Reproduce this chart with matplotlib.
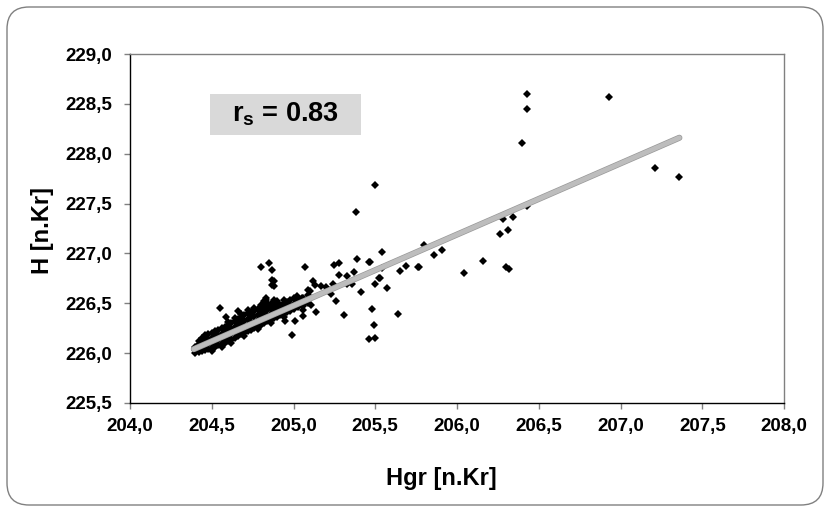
import numpy as np
import matplotlib
matplotlib.use('Agg')
import matplotlib.pyplot as plt
import matplotlib.patheffects as pe
from matplotlib.patches import FancyBboxPatch, Rectangle
from matplotlib.ticker import FuncFormatter

plt.rcParams['font.family'] = ['Liberation Sans', 'DejaVu Sans']
plt.rcParams['mathtext.fontset'] = 'custom'
plt.rcParams['mathtext.rm'] = 'Liberation Sans'
plt.rcParams['mathtext.bf'] = 'Liberation Sans:bold'

# dense band of points (Hgr, H)
band_x = [204.40, 204.40, 204.40,
          204.42, 204.42, 204.42, 204.42,
          204.44, 204.44, 204.44, 204.44,
          204.46, 204.46, 204.46, 204.46,
          204.48, 204.48, 204.48, 204.48,
          204.50, 204.50, 204.50, 204.50,
          204.52, 204.52, 204.52, 204.52,
          204.54, 204.54, 204.54, 204.54,
          204.56, 204.56, 204.56, 204.56,
          204.58, 204.58, 204.58, 204.58,
          204.60, 204.60, 204.60, 204.60,
          204.62, 204.62, 204.62, 204.62,
          204.64, 204.64, 204.64, 204.64,
          204.66, 204.66, 204.66, 204.66,
          204.68, 204.68, 204.68, 204.68,
          204.70, 204.70, 204.70, 204.70,
          204.72, 204.72, 204.72, 204.72,
          204.74, 204.74, 204.74, 204.74,
          204.76, 204.76, 204.76, 204.76,
          204.78, 204.78, 204.78, 204.78,
          204.80, 204.80, 204.80, 204.80,
          204.82, 204.82, 204.82, 204.82,
          204.84, 204.84, 204.84, 204.84,
          204.86, 204.86, 204.86, 204.86,
          204.88, 204.88, 204.88, 204.88,
          204.90, 204.90, 204.90, 204.90,
          204.92, 204.92, 204.92,
          204.94, 204.94, 204.94, 204.94,
          204.96, 204.96, 204.96,
          204.98, 204.98, 204.98,
          205.00, 205.00, 205.00,
          205.03, 205.03,
          205.06, 205.06,
          205.09, 205.09,
          204.60, 204.64, 204.68, 204.72, 204.76, 204.80, 204.84, 204.88,
          204.50, 204.56, 204.62, 204.70, 204.78, 204.86, 204.94]
band_y = [226.00, 226.03, 226.06,
          226.01, 226.05, 226.09, 226.12,
          226.02, 226.06, 226.10, 226.15,
          226.03, 226.08, 226.12, 226.18,
          226.04, 226.09, 226.14, 226.19,
          226.05, 226.10, 226.15, 226.20,
          226.06, 226.11, 226.16, 226.22,
          226.08, 226.13, 226.18, 226.23,
          226.09, 226.14, 226.19, 226.25,
          226.10, 226.16, 226.21, 226.26,
          226.12, 226.17, 226.22, 226.28,
          226.13, 226.19, 226.24, 226.30,
          226.15, 226.21, 226.26, 226.32,
          226.17, 226.22, 226.28, 226.34,
          226.19, 226.24, 226.30, 226.36,
          226.20, 226.26, 226.32, 226.38,
          226.22, 226.28, 226.34, 226.40,
          226.23, 226.30, 226.36, 226.41,
          226.25, 226.31, 226.37, 226.42,
          226.27, 226.33, 226.38, 226.44,
          226.28, 226.34, 226.40, 226.45,
          226.30, 226.36, 226.41, 226.46,
          226.32, 226.37, 226.43, 226.47,
          226.33, 226.39, 226.44, 226.49,
          226.35, 226.40, 226.46, 226.50,
          226.36, 226.42, 226.47, 226.52,
          226.38, 226.43, 226.48,
          226.39, 226.45, 226.50, 226.53,
          226.41, 226.46, 226.51,
          226.42, 226.48, 226.53,
          226.44, 226.49, 226.55,
          226.46, 226.52,
          226.48, 226.55,
          226.50, 226.58,
          226.31, 226.35, 226.39, 226.43, 226.45, 226.48, 226.50, 226.53,
          226.02, 226.06, 226.10, 226.17, 226.24, 226.30, 226.36]

# scattered points
scatter_x = [204.55, 204.59, 204.66, 204.82, 204.83, 204.83, 204.87, 204.88,
             204.80, 204.85, 204.87, 204.87, 204.88, 204.95, 204.99, 205.01,
             205.06, 205.02, 205.05, 205.06, 205.06, 205.07, 205.09, 205.10,
             205.11, 205.12, 205.13, 205.14, 205.17, 205.20, 205.23, 205.24,
             205.25, 205.26, 205.28, 205.28, 205.31, 205.33, 205.33, 205.36,
             205.37, 205.38, 205.39, 205.41, 205.46, 205.46, 205.47, 205.48,
             205.49, 205.50, 205.50, 205.50, 205.52, 205.53, 205.54, 205.54,
             205.57, 205.64, 205.65, 205.69, 205.76, 205.80, 205.77, 205.86,
             205.91, 206.04, 206.16, 206.26, 206.28, 206.30, 206.31, 206.32,
             206.34, 206.40, 206.43, 206.43, 206.43, 206.93, 207.21, 207.36]
scatter_y = [226.45, 226.36, 226.42, 226.52, 226.55, 226.53, 226.68, 226.72,
             226.86, 226.90, 226.83, 226.73, 226.67, 226.32, 226.18, 226.32,
             226.37, 226.57, 226.55, 226.47, 226.43, 226.86, 226.63, 226.62,
             226.48, 226.72, 226.68, 226.41, 226.67, 226.66, 226.59, 226.69,
             226.88, 226.52, 226.90, 226.78, 226.38, 226.77, 226.69, 226.69,
             226.81, 227.42, 226.94, 226.61, 226.91, 226.14, 226.91, 226.44,
             226.28, 227.69, 226.69, 226.15, 226.75, 226.75, 227.01, 226.85,
             226.65, 226.39, 226.82, 226.87, 226.86, 227.08, 226.86, 226.98,
             227.03, 226.80, 226.92, 227.19, 227.35, 226.86, 227.23, 226.84,
             227.37, 228.11, 227.48, 228.45, 228.60, 228.57, 227.86, 227.77]

# trend line end points
fit_x = [204.39, 207.36]
fit_y = [226.04, 228.16]

x_ticks = [204.0, 204.5, 205.0, 205.5, 206.0, 206.5, 207.0, 207.5, 208.0]
y_ticks = [225.5, 226.0, 226.5, 227.0, 227.5, 228.0, 228.5, 229.0]

fig = plt.figure(figsize=(8.3, 5.12), dpi=100)
fig.patch.set_facecolor('white')

# rounded chart border
border = FancyBboxPatch((0.07, 0.07), 8.16, 4.98,
                        boxstyle='round,pad=0,rounding_size=0.22',
                        transform=fig.dpi_scale_trans, facecolor='none',
                        edgecolor='#808080', linewidth=1.0, zorder=-1)
fig.patches.append(border)

ax = fig.add_axes([130 / 830, 109 / 512, 654 / 830, 349 / 512])
ax.set_facecolor('none')

allx = band_x + scatter_x
ally = band_y + scatter_y
ax.plot(allx, ally, linestyle='none', marker='D', markersize=4.2,
        markerfacecolor='black', markeredgewidth=0, zorder=3)

ax.plot(fit_x, fit_y, color='#bdbdbd', linewidth=3.4, solid_capstyle='round', zorder=4,
        path_effects=[pe.Stroke(linewidth=4.4, foreground='#999999'), pe.Normal()])

ax.set_xlim(204.0, 208.0)
ax.set_ylim(225.5, 229.0)
ax.set_xticks(x_ticks)
ax.set_yticks(y_ticks)
fmt = FuncFormatter(lambda v, p: ('%.1f' % v).replace('.', ','))
ax.xaxis.set_major_formatter(fmt)
ax.yaxis.set_major_formatter(fmt)
ax.tick_params(direction='out', length=4, width=1, color='#808080',
               labelsize=13.5, pad=5)
for lab in ax.get_xticklabels() + ax.get_yticklabels():
    lab.set_fontweight('bold')
ax.tick_params(axis='y', pad=9)
ax.tick_params(axis='x', pad=7)

ax.spines['left'].set_color('black')
ax.spines['bottom'].set_color('black')
ax.spines['top'].set_color('#808080')
ax.spines['right'].set_color('#808080')
for s in ax.spines.values():
    s.set_linewidth(1.0)

fig.text(441 / 830, 1 - 478 / 512, 'Hgr [n.Kr]', ha='center', va='center',
         fontsize=17, fontweight='bold')
fig.text(42 / 830, 1 - 230 / 512, 'H [n.Kr]', ha='center', va='center',
         rotation=90, fontsize=17, fontweight='bold')

# r_s box
box = Rectangle((210 / 830, 1 - 135 / 512), 151 / 830, 41 / 512,
                transform=fig.transFigure, facecolor='#d9d9d9',
                edgecolor='none', zorder=5)
fig.patches.append(box)
fig.text(285 / 830, 1 - 114 / 512, r'$\mathbf{r_s}$ = 0.83', ha='center',
         va='center', fontsize=19.5, fontweight='bold', zorder=6)

fig.savefig('out.png', dpi=100, facecolor='white')
